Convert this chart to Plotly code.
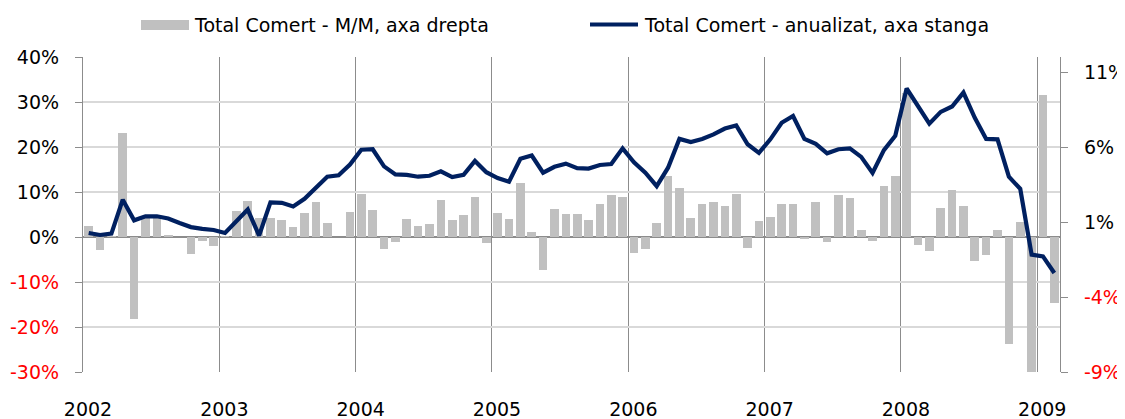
import plotly.graph_objects as go

years = ["2002", "2003", "2004", "2005", "2006", "2007", "2008", "2009"]
months = [f"{2002 + k // 12}-{k % 12 + 1:02d}" for k in range(86)]

# Total Comert - anualizat (left axis, %)
annual = [0.9, 0.45, 0.74, 8.3, 3.7, 4.6, 4.6, 4.1, 3.1, 2.2, 1.8, 1.56,
          0.9, 3.5, 6.1, 0.3, 7.7, 7.6, 6.8, 8.5, 11.1, 13.4, 13.7, 16.1,
          19.4, 19.5, 15.7, 13.9, 13.8, 13.4, 13.6, 14.6, 13.3, 13.8, 16.9, 14.4,
          13.1, 12.3, 17.4, 18.1, 14.3, 15.6, 16.3, 15.3, 15.2, 16.0, 16.2, 19.7,
          16.6, 14.3, 11.3, 15.4, 21.8, 21.1, 21.8, 22.8, 24.1, 24.8, 20.6, 18.7,
          21.7, 25.4, 26.9, 21.8, 20.7, 18.6, 19.5, 19.7, 17.8, 14.25, 19.3, 22.5,
          33.0, 29.0, 25.2, 27.8, 29.0, 32.1, 26.5, 21.8, 21.7, 13.4, 10.7, -3.9,
          -4.3, -8.0]

# Total Comert - M/M (right axis, %)
mom = [0.75, -0.84, 0.05, 6.93, -5.47, 1.27, 1.27, 0.16, 0.0, -1.11, -0.29, -0.58,
       0.05, 1.76, 2.42, 1.27, 1.24, 1.11, 0.67, 1.6, 2.36, 0.91, 0.0, 1.67,
       2.89, 1.82, -0.8, -0.36, 1.22, 0.71, 0.87, 2.47, 1.16, 1.49, 2.69, -0.42,
       1.62, 1.18, 3.62, 0.31, -2.2, 1.89, 1.56, 1.53, 1.11, 2.18, 2.8, 2.64,
       -1.04, -0.8, 0.93, 4.07, 3.29, 1.29, 2.2, 2.31, 2.04, 2.84, -0.76, 1.09,
       1.31, 2.2, 2.22, -0.13, 2.33, -0.36, 2.78, 2.58, 0.49, -0.24, 3.4, 4.04,
       9.6, -0.56, -0.91, 1.91, 3.13, 2.04, -1.58, -1.2, 0.47, -7.16, 1.02, -9.2,
       9.44, -4.4]

left_ticks = [-30, -20, -10, 0, 10, 20, 30, 40]
right_ticks = [-9, -4, 1, 6, 11]

BAR_NAME = "Total Comert - M/M, axa drepta"
LINE_NAME = "Total Comert - anualizat, axa stanga"

xpos = [k + 0.5 for k in range(len(months))]
FONT = "DejaVu Sans"
FS = 19
RED = "#ff0000"


def fmt(v):
    s = f"{v}%"
    return f"<span style='color:{RED}'>{s}</span>" if v < 0 else s


fig = go.Figure()
fig.add_trace(go.Bar(x=xpos, y=mom, width=0.76, name=BAR_NAME,
                     marker=dict(color="#c0c0c0", line=dict(width=0)),
                     yaxis="y", customdata=months, showlegend=False))
fig.add_trace(go.Scatter(x=xpos, y=annual, mode="lines", name=LINE_NAME,
                         line=dict(color="#002060", width=4.2),
                         yaxis="y2", customdata=months, showlegend=False))

# the page body adds an 8px margin, so work in page coords minus 8
OFF = 8
W, H = 1125 - OFF, 419 - OFF
L, R, T, B = 83 - OFF, 1060 - OFF, 57 - OFF, 372 - OFF


def px(x):
    return (x - OFF - L) / (R - L)


def py(y):
    return (B - (y - OFF)) / (B - T)


fig.update_layout(
    width=W, height=H,
    margin=dict(l=L, r=W - R, t=T, b=H - B, autoexpand=False),
    paper_bgcolor="white", plot_bgcolor="white",
    font=dict(family=FONT, size=FS, color="black"),
    bargap=0,
    xaxis=dict(range=[0, 86], tickvals=[12 * k for k in range(len(years))],
               ticktext=years, showgrid=True, gridcolor="#8c8c8c", gridwidth=1,
               zeroline=False, showline=False, ticks="", automargin=False,
               ticklabelstandoff=24, ticklabelshift=5,
               tickfont=dict(family=FONT, size=FS)),
    yaxis=dict(side="right", range=[-9, 12], tickvals=right_ticks,
               ticktext=[fmt(v) for v in right_ticks],
               showgrid=False, zeroline=False, showline=True, automargin=False,
               linecolor="#8c8c8c", linewidth=1.2, ticks="outside", ticklen=7,
               tickcolor="#8c8c8c", ticklabelstandoff=12,
               tickfont=dict(family=FONT, size=FS)),
    yaxis2=dict(side="left", overlaying="y", range=[-30, 40], tickvals=left_ticks,
                ticktext=[fmt(v) for v in left_ticks], automargin=False,
                showgrid=True, gridcolor="#d9d9d9", gridwidth=1.5,
                zeroline=True, zerolinecolor="#8c8c8c", zerolinewidth=1.5,
                showline=True, linecolor="#8c8c8c", linewidth=1.2,
                ticks="outside", ticklen=7, tickcolor="#8c8c8c",
                ticklabelstandoff=12,
                tickfont=dict(family=FONT, size=FS)),
    shapes=[
        dict(type="rect", xref="paper", yref="paper",
             x0=px(141), x1=px(189), y0=py(30), y1=py(20),
             fillcolor="#c0c0c0", line=dict(width=0)),
        dict(type="line", xref="paper", yref="paper",
             x0=px(590), x1=px(638), y0=py(24.5), y1=py(24.5),
             line=dict(color="#002060", width=4)),
    ],
    annotations=[
        dict(text=BAR_NAME, xref="paper", yref="paper", x=px(192), y=py(25),
             xanchor="left", yanchor="middle", showarrow=False,
             font=dict(family=FONT, size=FS, color="black")),
        dict(text=LINE_NAME, xref="paper", yref="paper", x=px(642), y=py(25),
             xanchor="left", yanchor="middle", showarrow=False,
             font=dict(family=FONT, size=FS, color="black")),
    ],
)

fig.write_html("out.html")
